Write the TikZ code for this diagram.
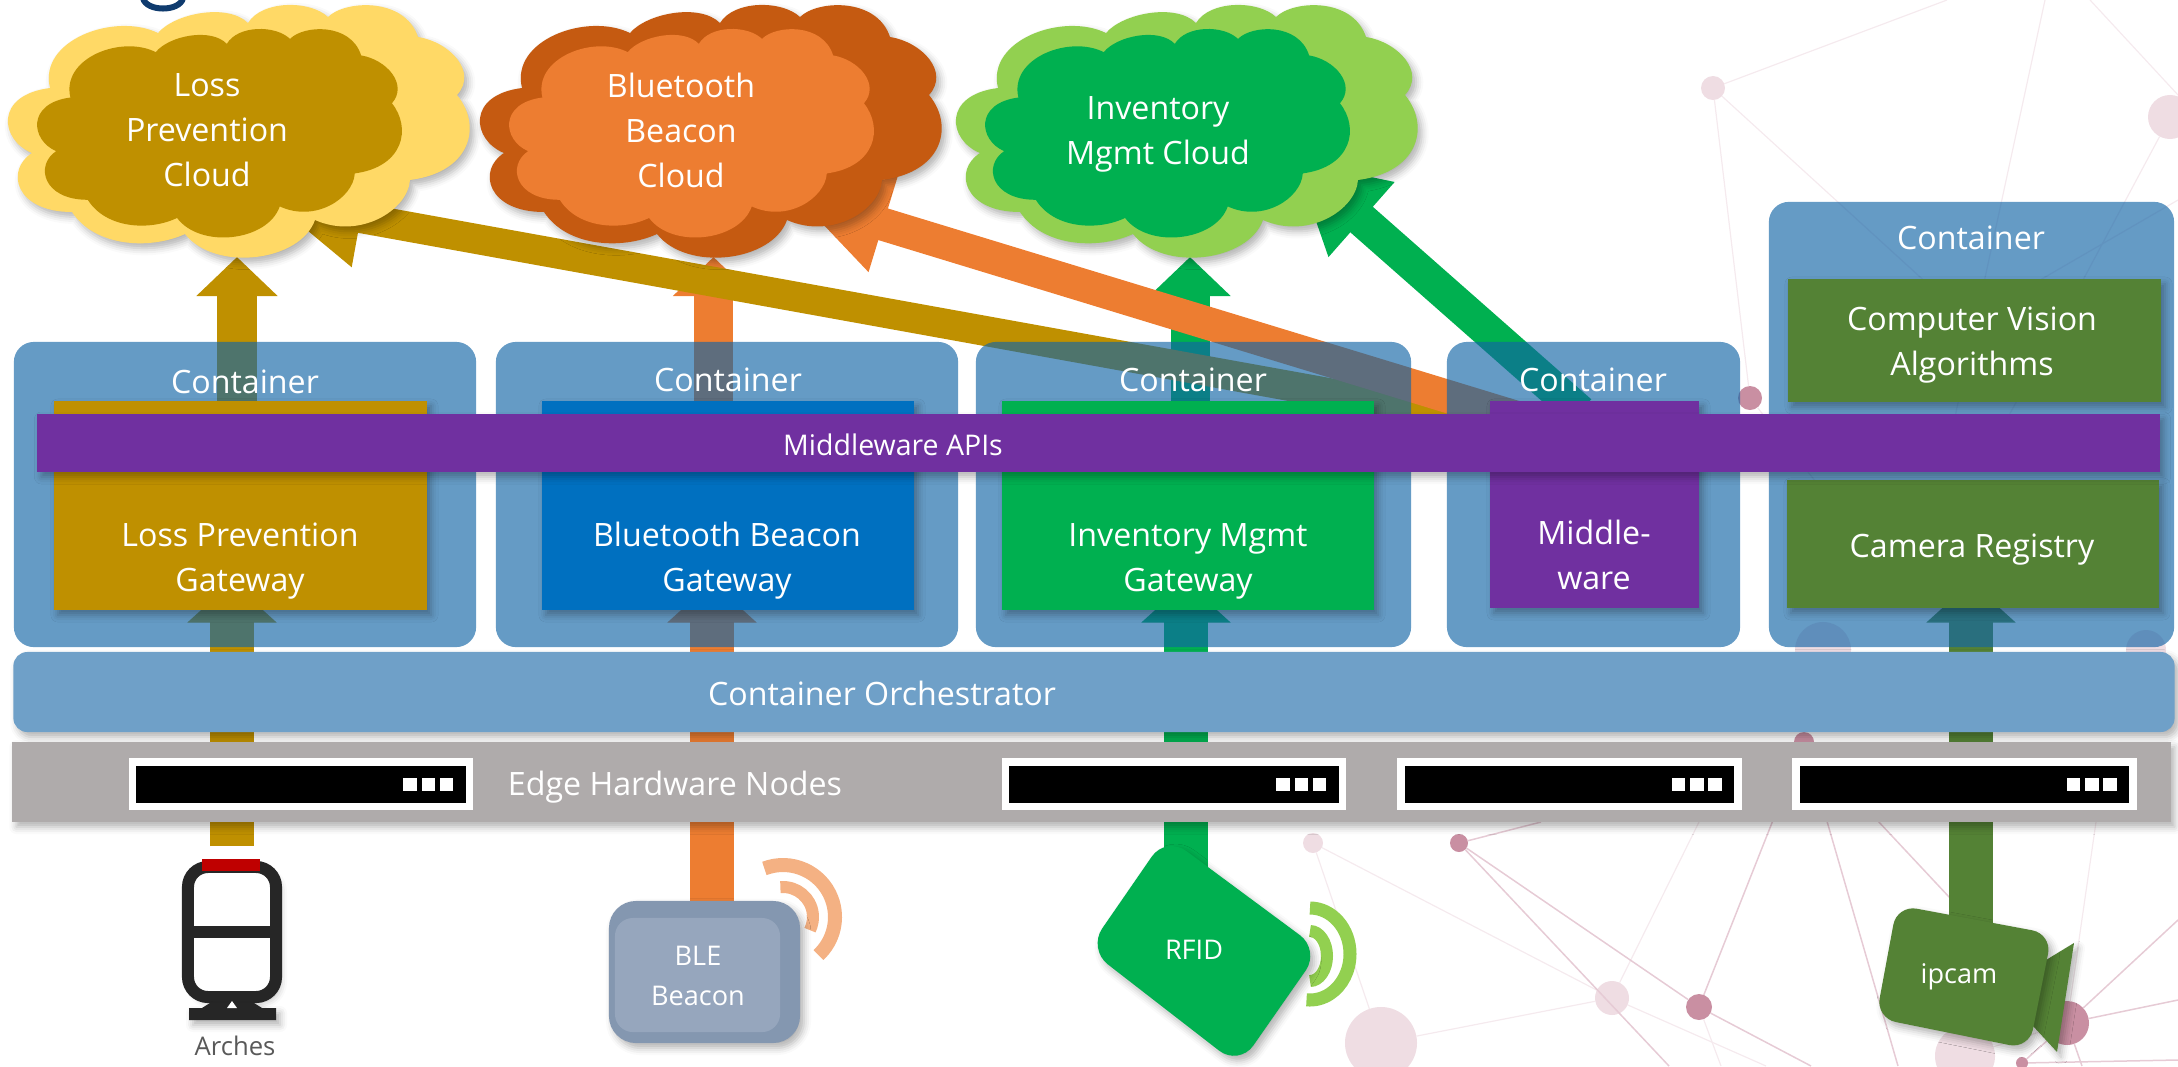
\documentclass[tikz,border=0pt]{standalone}
\usepackage{fontspec}
\setmainfont{Open Sans}
\usetikzlibrary{arrows.meta,shadows.blur}

\definecolor{titlenavy}{HTML}{0F3B6E}
\definecolor{lossgold}{HTML}{BF9000}
\definecolor{losspale}{HTML}{FFD966}
\definecolor{beaconorange}{HTML}{ED7D31}
\definecolor{beacondark}{HTML}{C55A11}
\definecolor{beaconpale}{HTML}{F4B183}
\definecolor{beaconblue}{HTML}{0070C0}
\definecolor{mgmtgreen}{HTML}{00B050}
\definecolor{mgmtpale}{HTML}{92D050}
\definecolor{apipurple}{HTML}{7030A0}
\definecolor{camolive}{HTML}{548235}
\definecolor{boxblue}{RGB}{18,101,166}
\definecolor{orchblue}{RGB}{111,160,200}
\definecolor{edgegrey}{HTML}{AFABAB}
\definecolor{tagslate}{HTML}{8497B0}
\definecolor{taginner}{HTML}{96A6BD}
\definecolor{iconblack}{HTML}{262626}
\definecolor{netfaint}{HTML}{F5EAEE}
\definecolor{netmid}{HTML}{E6CBD5}
\definecolor{dotfaint}{HTML}{EFDDE3}
\definecolor{dotdark}{HTML}{C98FA2}

\pgfdeclarelayer{wires}
\pgfsetlayers{wires,main}

% outline of the big cloud, in pixels of the left one
\newcommand{\cloudpath}{(158,33)
    .. controls (175,13) and (228,3) .. (248,23)
    .. controls (262,0) and (310,0) .. (328,17)
    .. controls (345,0) and (405,-3) .. (418,37)
    .. controls (450,42) and (478,72) .. (457,95)
    .. controls (482,125) and (472,172) .. (410,180)
    .. controls (408,210) and (360,240) .. (315,220)
    .. controls (300,262) and (215,272) .. (185,234)
    .. controls (150,250) and (95,247) .. (72,212)
    .. controls (15,212) and (5,170) .. (32,153)
    .. controls (0,140) and (-6,95) .. (50,88)
    .. controls (38,40) and (115,12) .. (158,33) -- cycle}

\begin{document}
\begin{tikzpicture}[x=0.01cm, y=-0.01cm,
        every node/.style={inner sep=0, outer sep=0, text=white, align=center,
            font=\fontsize{9.15}{12.8}\selectfont},
        softshadow/.style={blur shadow={shadow xshift=.04cm, shadow yshift=-.05cm,
            shadow blur radius=.07cm, shadow opacity=30}},
        containerbox/.style={fill=boxblue, fill opacity=.65, text opacity=1, rounded corners=.2cm},
        gatewaybox/.style={softshadow},
        serverbox/.style={fill=black, draw=white, line width=.075cm,
            minimum width=3.365cm, minimum height=.445cm},
        serverled/.style={fill=white, minimum width=.135cm, minimum height=.13cm},
        smalltext/.style={font=\fontsize{7.7}{11.2}\selectfont},
        upblock/.style={line width=.39cm, -{Triangle[length=.39cm, width=.79cm]}},
        inblock/.style={line width=.44cm, -{Triangle[length=.405cm, width=.87cm]}},
        slantblock/.style={-{Triangle[length=.9cm, width=.93cm]}},
        netdot/.style={circle, fill=dotfaint},
        netdotdark/.style={circle, fill=dotdark},
        netline/.style={draw=netfaint, line width=.012cm},
        netlinedark/.style={draw=netmid, line width=.015cm}]

    \useasboundingbox (0,0) rectangle (2178,1066);

    % Draw the piece of title at the top edge
    \draw[draw=titlenavy, line width=.06cm] (143,-2) .. controls (146,12) and (180,12) .. (183,-2);

    % Draw the clouds
    \fill[losspale, softshadow] \cloudpath;
    \begin{scope}[shift={(30.9,24.9)}, xscale=.79, yscale=.825]
        \fill[lossgold] \cloudpath;
    \end{scope}
    \node (lossCloud) at (207,130) {Loss\\Prevention\\Cloud};

    \begin{scope}[shift={(472,0)}]
        \fill[beacondark, softshadow] \cloudpath;
    \end{scope}
    \begin{scope}[shift={(502.9,24.9)}, xscale=.79, yscale=.825]
        \fill[beaconorange] \cloudpath;
    \end{scope}
    \node (beaconCloud) at (681,130) {Bluetooth\\Beacon\\Cloud};

    \begin{scope}[shift={(948,0)}]
        \fill[mgmtpale, softshadow] \cloudpath;
    \end{scope}
    \begin{scope}[shift={(978.9,24.9)}, xscale=.79, yscale=.825]
        \fill[mgmtgreen] \cloudpath;
    \end{scope}
    \node (mgmtCloud) at (1158,134) {Inventory\\Mgmt Cloud};

    % Draw the containers
    \node[containerbox, minimum width=4.62cm, minimum height=3.05cm] (lossContainer) at (245,494.5) {};
    \node[containerbox, minimum width=4.62cm, minimum height=3.05cm] (beaconContainer) at (727,494.5) {};
    \node[containerbox, minimum width=4.35cm, minimum height=3.05cm] (mgmtContainer) at (1193.5,494.5) {};
    \node[containerbox, minimum width=2.93cm, minimum height=3.05cm] (middleContainer) at (1593.5,494.5) {};
    \node[containerbox, minimum width=4.05cm, minimum height=4.45cm] (visionContainer) at (1971.5,424.5) {};

    \node (lossContainerLabel) at (245,382) {Container};
    \node (beaconContainerLabel) at (728,380) {Container};
    \node (mgmtContainerLabel) at (1193,380) {Container};
    \node (middleContainerLabel) at (1593,380) {Container};
    \node (visionContainerLabel) at (1971,238) {Container};

    % Draw the boxes inside the containers
    \node[gatewaybox, fill=lossgold, minimum width=3.73cm, minimum height=2.09cm] (lossGateway) at (240.5,505.5) {};
    \node[gatewaybox, fill=beaconblue, minimum width=3.72cm, minimum height=2.09cm] (beaconGateway) at (728,505.5) {};
    \node[gatewaybox, fill=mgmtgreen, minimum width=3.72cm, minimum height=2.09cm] (mgmtGateway) at (1188,505.5) {};
    \node[gatewaybox, fill=apipurple, minimum width=2.09cm, minimum height=2.07cm] (middleGateway) at (1594.5,504.5) {};
    \node[gatewaybox, fill=camolive, minimum width=3.73cm, minimum height=1.23cm] (visionBox) at (1974.5,340.5) {};
    \node[gatewaybox, fill=camolive, minimum width=3.72cm, minimum height=1.28cm] (registryBox) at (1973,544) {};

    \node (visionLabel) at (1972,345) {Computer Vision\\Algorithms};
    \node (lossGatewayLabel) at (240,561) {Loss Prevention\\Gateway};
    \node (beaconGatewayLabel) at (727,561) {Bluetooth Beacon\\Gateway};
    \node (mgmtGatewayLabel) at (1188,561) {Inventory Mgmt\\Gateway};
    \node (middleGatewayLabel) at (1594,554.5) {Middle-\\ware};
    \node (registryLabel) at (1972,550) {Camera Registry};

    % Draw the bar across the containers
    \node[softshadow, fill=apipurple, minimum width=21.21cm, minimum height=.58cm] (apiBar) at (1098.5,443) {};
    \node[font=\fontsize{8.1}{11.2}\selectfont] (apiLabel) at (893,445) {Middleware APIs};

    % Draw the two layers below
    \node[softshadow, fill=orchblue, rounded corners=.14cm, minimum width=21.6cm, minimum height=.8cm] (orchBar) at (1094,692) {};
    \node (orchLabel) at (882,693) {Container Orchestrator};
    \node[softshadow, fill=edgegrey, minimum width=21.57cm, minimum height=.8cm] (edgeBar) at (1091.5,782) {};
    \node (edgeLabel) at (675,787) {Edge Hardware Nodes};

    % Draw the servers on the grey bar
    \node[serverbox] (serverA) at (301,784) {};
    \node[serverled] (serverALedA) at (410,784.5) {};
    \node[serverled] (serverALedB) at (428.5,784.5) {};
    \node[serverled] (serverALedC) at (446.5,784.5) {};

    \node[serverbox] (serverB) at (1174,784) {};
    \node[serverled] (serverBLedA) at (1283,784.5) {};
    \node[serverled] (serverBLedB) at (1301.5,784.5) {};
    \node[serverled] (serverBLedC) at (1319.5,784.5) {};

    \node[serverbox] (serverC) at (1569.5,784) {};
    \node[serverled] (serverCLedA) at (1678.5,784.5) {};
    \node[serverled] (serverCLedB) at (1697,784.5) {};
    \node[serverled] (serverCLedC) at (1715,784.5) {};

    \node[serverbox] (serverD) at (1964.5,784) {};
    \node[serverled] (serverDLedA) at (2073.5,784.5) {};
    \node[serverled] (serverDLedB) at (2092,784.5) {};
    \node[serverled] (serverDLedC) at (2110,784.5) {};

    % Draw the arches
    \node[draw=iconblack, fill=white, line width=.12cm, rounded corners=.2cm, softshadow,
        minimum width=.88cm, minimum height=1.3cm] (archesFrame) at (232,932) {};
    \draw[iconblack, line width=.12cm] (archesFrame.west) -- (archesFrame.east);
    \fill[iconblack, softshadow] (210,1003) -- (254,1003) -- (262,1008) -- (276,1008) -- (276,1020) -- (189,1020) -- (189,1008) -- (202,1008) -- cycle;
    \fill[white] (227,1008) -- (232,1001) -- (237,1008) -- cycle;
    \node[fill=red!75!black, minimum width=.58cm, minimum height=.12cm] (archesLamp) at (231,865) {};
    \node[font=\fontsize{7.3}{11.2}\selectfont, text=black!65] (archesLabel) at (235,1046) {Arches};

    % Draw the beacon
    \draw[beaconpale, line width=.14cm] (783,917) ++(-111:52) arc[start angle=-111, end angle=47, radius=52];
    \draw[beaconpale, line width=.12cm] (783,917) ++(-95:30) arc[start angle=-95, end angle=26, radius=30];
    \node[softshadow, fill=tagslate, rounded corners=.27cm, minimum width=1.91cm, minimum height=1.42cm] (beaconTag) at (704.5,972) {};
    \node[fill=taginner, rounded corners=.18cm, minimum width=1.65cm, minimum height=1.14cm] (beaconTagInner) at (697.5,975) {};
    \node[smalltext, text=white] (beaconTagLabel) at (698,976) {BLE\\Beacon};

    % Draw the rfid tag
    \draw[mgmtpale, line width=.13cm] (1310,908) arc[start angle=-90, end angle=95, x radius=40, y radius=46];
    \draw[mgmtpale, line width=.12cm] (1310,931) arc[start angle=-90, end angle=90, x radius=17, y radius=25];
    \fill[mgmtgreen, softshadow, rounded corners=.25cm] (1166,836) -- (1320,950) -- (1239,1066) -- (1088,949) -- cycle;
    \node[smalltext] (rfidLabel) at (1194,950) {RFID};

    % Draw the camera
    \fill[camolive, softshadow] (2046,960) -- (2074,943) -- (2057,1052) -- (2033,1026) -- cycle;
    \fill[camolive, softshadow, rounded corners=.2cm] (1897,905) -- (2052,934) -- (2029,1049) -- (1876,1018) -- cycle;
    \node[smalltext] (ipcamLabel) at (1959,977) {ipcam};

    \begin{pgfonlayer}{wires}
        % Draw the network behind everything
        \node[netdot, minimum size=.24cm] (dotA) at (1713,88) {};
        \node[netdot, minimum size=.44cm] (dotB) at (2170,117) {};
        \node[netdotdark, minimum size=.24cm] (dotC) at (1750,398) {};
        \node[netdot, minimum size=.2cm] (dotD) at (1313,843) {};
        \node[netdotdark, minimum size=.18cm] (dotE) at (1459,843) {};
        \node[netdot, minimum size=.34cm] (dotF) at (1612,998) {};
        \node[netdotdark, minimum size=.26cm] (dotG) at (1699,1007) {};
        \node[netdot, minimum size=.72cm] (dotH) at (1381,1043) {};
        \node[netdotdark, minimum size=.44cm] (dotI) at (2067,1023) {};
        \node[netdot, minimum size=.6cm] (dotJ) at (1965,1056) {};
        \node[netdotdark, minimum size=.12cm] (dotK) at (2022,1063) {};
        \node[netdotdark, minimum size=.2cm] (dotL) at (1804,742) {};
        \node[netdot, minimum size=.56cm] (dotM) at (1823,650) {};
        \node[netdot, minimum size=.4cm] (dotN) at (2146,650) {};

        \draw[netline] (dotA) -- (1947,0) (dotA) -- (dotC) (dotA) -- (2000,350) (2045,0) -- (1950,440);
        \draw[netline] (2090,0) -- (2178,95) (dotB) -- (2083,280) -- (1990,450) (2178,200) -- (2040,280) -- (1900,360) (dotC) -- (1830,500);
        \draw[netline] (dotD) -- (dotF) (dotD) -- (dotH) (dotF) -- (dotH) (dotF) -- (1766,1066);
        \draw[netline] (dotG) -- (1721,1066) (dotF) -- (1699,822) (2096,822) -- (dotI) (dotJ) -- (dotI);
        \draw[netlinedark] (dotE) -- (dotG) (dotE) -- (1669,1066) (dotE) -- (1541,822);
        \draw[netlinedark] (dotG) -- (1811,1066) (dotG) -- (dotL) (dotL) -- (dotI) (dotL) -- (1898,1066);
        \draw[netlinedark] (2178,920) -- (dotI) (2178,1000) -- (dotI) (dotI) -- (2082,1066);
        \draw[netlinedark] (dotK) -- (2178,1060) (dotK) -- (dotI);

        % Draw the arrows going up to the clouds
        \coordinate (lossCloudTip) at (237,257);
        \coordinate (beaconCloudTip) at (713.5,257);
        \coordinate (mgmtCloudTip) at (1190,257);
        \draw[upblock, draw=mgmtgreen] (mgmtGateway.north -| mgmtCloudTip) -- (mgmtCloudTip);
        \draw[upblock, draw=beaconorange] (beaconGateway.north -| beaconCloudTip) -- (beaconCloudTip);
        \draw[upblock, draw=lossgold] (lossGateway.north -| lossCloudTip) -- (lossCloudTip);

        % Draw the arrows coming out of the middleware
        \coordinate (lossTail) at (1500,424);
        \coordinate (lossSlantTip) at (272,202);
        \coordinate (beaconTail) at (1525,420);
        \coordinate (beaconSlantTip) at (797,198);
        \coordinate (mgmtTail) at (1580,412);
        \coordinate (mgmtSlantTip) at (1294,160);
        \draw[slantblock, line width=.30cm, draw=lossgold] (lossTail) -- (lossSlantTip);
        \draw[slantblock, line width=.33cm, draw=beaconorange] (beaconTail) -- (beaconSlantTip);
        \draw[slantblock, line width=.34cm, draw=mgmtgreen] (mgmtTail) -- (mgmtSlantTip);

        % Draw the arrows coming up from the devices
        \coordinate (archesFoot) at (232,846);
        \coordinate (rfidTop) at (1186,870);
        \coordinate (ipcamTop) at (1971,930);
        \coordinate (lossIn) at (232,582);
        \coordinate (beaconIn) at (712,582);
        \coordinate (mgmtIn) at (1186,582);
        \coordinate (registryIn) at (1971,582);
        \draw[inblock, draw=lossgold] (archesFoot) -- (lossIn);
        \draw[inblock, draw=beaconorange] (beaconTag.north -| beaconIn) -- (beaconIn);
        \draw[inblock, draw=mgmtgreen] (rfidTop) -- (mgmtIn);
        \draw[inblock, draw=camolive] (ipcamTop) -- (registryIn);
    \end{pgfonlayer}

\end{tikzpicture}
\end{document}
